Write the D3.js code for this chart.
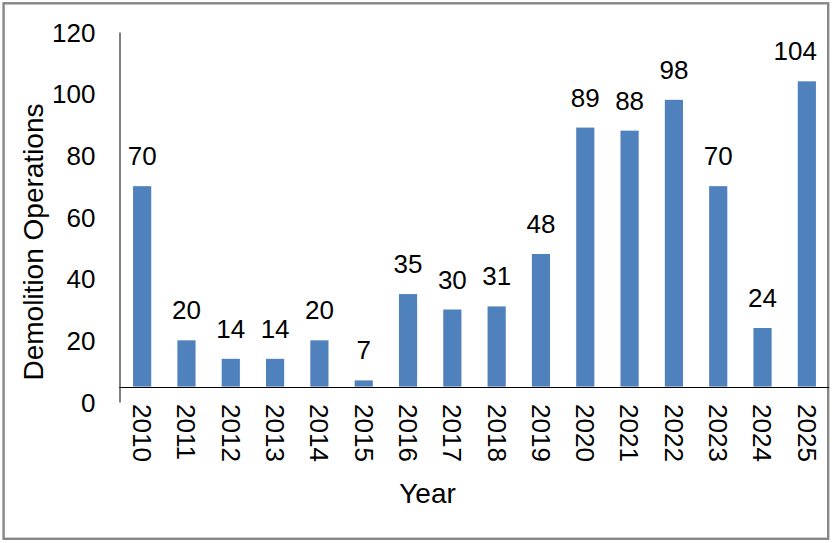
<!DOCTYPE html>
<html>
<head>
<meta charset="utf-8">
<script src="https://cdn.jsdelivr.net/npm/d3@7"></script>
<style>
  html, body { margin: 0; padding: 0; background: #fff; }
  svg { display: block; font-family: "Liberation Sans", Arial, sans-serif; }
</style>
</head>
<body>
<svg id="chart" width="834" height="543"></svg>
<script>
const years = ["2010","2011","2012","2013","2014","2015","2016","2017","2018","2019","2020","2021","2022","2023","2024","2025"];
const operations = [70, 20, 14, 14, 20, 7, 35, 30, 31, 48, 89, 88, 98, 70, 24, 104];
const yTicks = [0, 20, 40, 60, 80, 100, 120];
const yTitle = "Demolition Operations";
const xTitle = "Year";
const axisCross = 5;

const svg = d3.select("#chart");

// outer border
svg.append("rect")
  .attr("x", 3.6).attr("y", 3.3)
  .attr("width", 824.6).attr("height", 535.5)
  .attr("fill", "#fff")
  .attr("stroke", "#878787")
  .attr("stroke-width", 2.4);

const x = d3.scaleBand()
  .domain(years)
  .range([120, 829])
  .paddingInner(0.59)
  .paddingOuter(0.295);

const y = d3.scaleLinear()
  .domain([0, 120])
  .range([402, 32]);

// bars
svg.append("g").selectAll("rect")
  .data(years)
  .join("rect")
  .attr("x", d => x(d))
  .attr("width", x.bandwidth())
  .attr("y", (d, i) => y(Math.max(operations[i], axisCross)))
  .attr("height", (d, i) => Math.abs(y(axisCross) - y(operations[i])))
  .attr("fill", "#4F81BD");

// data labels (kept inside the plot area on the right)
const labelRightLimit = 817;
svg.append("g").selectAll("text")
  .data(years)
  .join("text")
  .attr("x", d => x(d) + x.bandwidth() / 2)
  .attr("y", (d, i) => y(operations[i]) - 21)
  .attr("text-anchor", "middle")
  .attr("font-size", 26)
  .attr("fill", "#000")
  .text((d, i) => operations[i])
  .each(function() {
    const b = this.getBBox();
    const over = b.x + b.width - labelRightLimit;
    if (over > 0) d3.select(this).attr("x", +d3.select(this).attr("x") - over);
  });

// y axis
const yAxis = d3.axisLeft(y).tickValues(yTicks).tickSize(0).tickPadding(24);
const gy = svg.append("g").attr("transform", "translate(119.5,0)").call(yAxis);
gy.select(".domain").attr("stroke", "#000").attr("stroke-width", 1);
gy.selectAll(".tick text")
  .attr("font-size", 26)
  .attr("font-family", "Liberation Sans, Arial, sans-serif")
  .attr("fill", "#000")
  .attr("dy", "0.35em");

// x axis (crossing at value 5)
const xAxis = d3.axisBottom(x).tickSize(0).tickPadding(0);
const gx = svg.append("g").attr("transform", `translate(0,${Math.round(y(axisCross)) + 0.5})`).call(xAxis);
gx.select(".domain").attr("stroke", "#000").attr("stroke-width", 1)
  .attr("d", `M119.5,0H829`);
gx.selectAll(".tick text")
  .attr("font-size", 26)
  .attr("font-family", "Liberation Sans, Arial, sans-serif")
  .attr("fill", "#000")
  .attr("text-anchor", "start")
  .attr("transform", `translate(0,${404 - (Math.round(y(axisCross)) + 0.5)}) rotate(90)`)
  .attr("x", 0)
  .attr("y", 0)
  .attr("dy", "0.35em");

// axis titles
svg.append("text")
  .attr("transform", "translate(43,242) rotate(-90)")
  .attr("text-anchor", "middle")
  .attr("font-size", 28)
  .attr("fill", "#000")
  .text(yTitle);

svg.append("text")
  .attr("x", 427.5)
  .attr("y", 503)
  .attr("text-anchor", "middle")
  .attr("font-size", 28)
  .attr("fill", "#000")
  .text(xTitle);
</script>
</body>
</html>
